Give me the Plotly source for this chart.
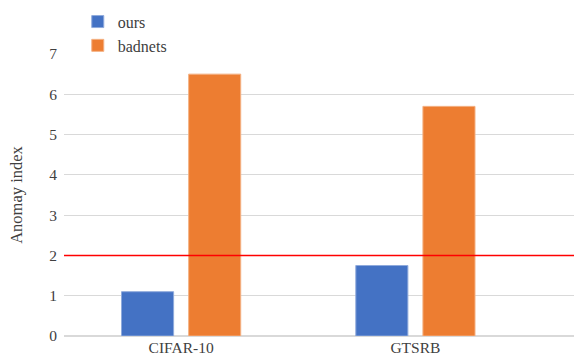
import plotly.graph_objects as go

# Data
datasets = ["CIFAR-10", "GTSRB"]
ours = [1.1, 1.75]
badnets = [6.5, 5.7]
threshold = 2
y_ticks = [0, 1, 2, 3, 4, 5, 6, 7]

FONT = "Liberation Serif"
TEXT_COLOR = "#404040"
x_pos = list(range(len(datasets)))

fig = go.Figure()
fig.add_trace(go.Bar(
    x=x_pos, y=ours, name="ours",
    marker=dict(color="#4472C4", line=dict(color="#8FAADC", width=1)),
))
fig.add_trace(go.Bar(
    x=x_pos, y=badnets, name="badnets",
    marker=dict(color="#ED7D31", line=dict(color="#F4B183", width=1)),
))

# Threshold line across the full plot width
fig.add_shape(type="line", xref="paper", yref="y", x0=0, x1=1,
              y0=threshold, y1=threshold,
              line=dict(color="#FF0000", width=1.5), layer="above")

fig.update_layout(
    width=574, height=363,
    margin=dict(l=64, r=0, t=54, b=27),
    paper_bgcolor="white", plot_bgcolor="white",
    barmode="group", bargap=0.427, bargroupgap=0.224,
    font=dict(family=FONT, size=15, color=TEXT_COLOR),
    showlegend=True,
    legend=dict(x=0.027, y=1.175, xanchor="left", yanchor="top",
                font=dict(family=FONT, size=16, color=TEXT_COLOR),
                bgcolor="rgba(0,0,0,0)", tracegroupgap=0,
                itemwidth=30),
    xaxis=dict(
        tickmode="array", tickvals=x_pos, ticktext=datasets,
        range=[-0.5, 1.677], showgrid=False, zeroline=False,
        showline=False, ticks="",
        tickfont=dict(family=FONT, size=15.5, color=TEXT_COLOR),
    ),
    yaxis=dict(
        range=[0, 7], tickvals=y_ticks, showgrid=True,
        gridcolor="#D9D9D9", gridwidth=1, zeroline=True,
        zerolinecolor="#D9D9D9", zerolinewidth=1.5,
        showline=False, ticks="", ticklabelstandoff=6,
        tickfont=dict(family=FONT, size=15.5, color=TEXT_COLOR),
        title=dict(text="Anomay index", standoff=22,
                   font=dict(family=FONT, size=16.5, color=TEXT_COLOR)),
    ),
)

fig.write_html("out.html")
